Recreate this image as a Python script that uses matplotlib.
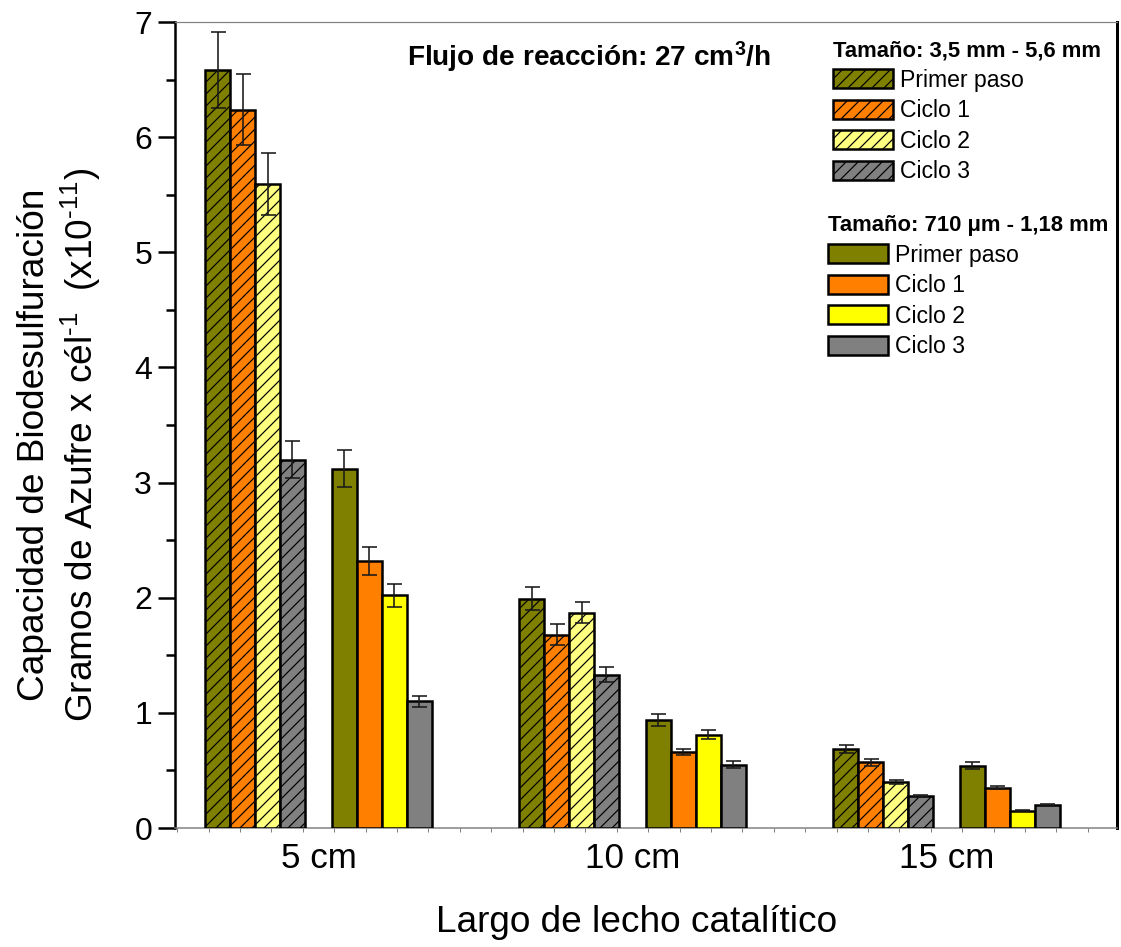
import numpy as np
import matplotlib
matplotlib.use('Agg')
import matplotlib.pyplot as plt

# Datos: capacidad de biodesulfuración (x10^-11 g S / cél)
categorias = ['5 cm', '10 cm', '15 cm']
series = ['Primer paso', 'Ciclo 1', 'Ciclo 2', 'Ciclo 3']

# Tamaño 3,5 mm - 5,6 mm
grande = [
    [6.58, 1.99, 0.69],
    [6.24, 1.68, 0.57],
    [5.59, 1.87, 0.40],
    [3.20, 1.33, 0.28],
]
grande_err = [
    [0.33, 0.10, 0.035],
    [0.31, 0.09, 0.03],
    [0.27, 0.09, 0.02],
    [0.16, 0.065, 0.01],
]

# Tamaño 710 um - 1,18 mm
fino = [
    [3.12, 0.94, 0.54],
    [2.32, 0.66, 0.35],
    [2.02, 0.81, 0.15],
    [1.10, 0.55, 0.20],
]
fino_err = [
    [0.16, 0.05, 0.03],
    [0.12, 0.03, 0.015],
    [0.10, 0.04, 0.005],
    [0.05, 0.03, 0.01],
]

colores_grande = ['#808000', '#FF8000', '#FFFF80', '#808080']
colores_fino = ['#808000', '#FF8000', '#FFFF00', '#808080']

plt.rcParams['font.family'] = ['Liberation Sans', 'DejaVu Sans']
plt.rcParams['mathtext.fontset'] = 'custom'
plt.rcParams['mathtext.rm'] = 'Liberation Sans'
plt.rcParams['mathtext.it'] = 'Liberation Sans:italic'
plt.rcParams['mathtext.bf'] = 'Liberation Sans:bold'
plt.rcParams['hatch.linewidth'] = 1.2
plt.rcParams['hatch.color'] = 'black'

W, H = 1121, 947
dpi = 72
fig = plt.figure(figsize=(W / dpi, H / dpi), dpi=dpi)
ax = fig.add_axes([175 / W, (H - 828) / H, (1117 - 175) / W, (828 - 22) / H])

x = np.arange(len(categorias))
ancho = 0.0796
sep = 0.0828

err_kw = dict(ecolor='#1a1a1a', elinewidth=1.6, capsize=7.5, capthick=1.6)

barras_grande = []
for i, nombre in enumerate(series):
    b = ax.bar(x - sep - (3 - i) * ancho, grande[i], ancho, yerr=grande_err[i],
               color=colores_grande[i], edgecolor='black', linewidth=2.5,
               hatch='//', label=nombre, error_kw=err_kw, zorder=3)
    barras_grande.append(b)

barras_fino = []
for i, nombre in enumerate(series):
    b = ax.bar(x + sep + i * ancho, fino[i], ancho, yerr=fino_err[i],
               color=colores_fino[i], edgecolor='black', linewidth=2.5,
               label=nombre, error_kw=err_kw, zorder=3)
    barras_fino.append(b)

ax.set_xlim(-0.457, 2.543)
ax.set_ylim(0, 7)
ax.set_xticks(x)
ax.set_xticklabels(categorias)
ax.set_xticks(np.arange(-0.45, 2.55, 0.1), minor=True)
ax.set_yticks(np.arange(0, 8, 1))
ax.set_yticks(np.arange(0.5, 7, 1), minor=True)

ax.tick_params(axis='y', which='major', direction='out', length=17, width=2.5,
               labelsize=32, pad=6)
ax.tick_params(axis='y', which='minor', direction='out', length=9, width=2.5)
ax.tick_params(axis='x', which='major', length=0, labelsize=35, pad=14)
ax.tick_params(axis='x', which='minor', direction='out', length=4, width=1,
               color='#808080')

ax.spines['left'].set_linewidth(2.5)
ax.spines['right'].set_linewidth(3)
ax.spines['top'].set_color('#808080')
ax.spines['top'].set_linewidth(1.2)
ax.spines['bottom'].set_color('#808080')
ax.spines['bottom'].set_linewidth(1.5)

fig.text(60 / W, 1 - 445 / H,
         'Capacidad de Biodesulfuración\n'
         r'Gramos de Azufre x cél$^{\text{-1}}$  (x10$^{\text{-11}}$)',
         rotation=90, ha='center', va='center', multialignment='center',
         fontsize=37, linespacing=1.2)
fig.text(637 / W, 1 - 922 / H, 'Largo de lecho catalítico',
         ha='center', va='center', fontsize=37)
fig.text(589 / W, 1 - 57 / H, r'Flujo de reacción: 27 cm$^{\mathbf{3}}$/h',
         ha='center', va='center', fontsize=28, fontweight='bold')

leg_kw = dict(loc='upper left', frameon=False, fontsize=23, borderpad=0,
              borderaxespad=0, handlelength=2.6, handleheight=0.87,
              handletextpad=0.3, labelspacing=0.33, alignment='left',
              bbox_transform=fig.transFigure,
              title_fontproperties={'weight': 'bold', 'size': 22})

leg1 = ax.legend(barras_grande, series, title='Tamaño: 3,5 mm - 5,6 mm',
                 bbox_to_anchor=(833 / W, 1 - 40 / H), **leg_kw)
ax.add_artist(leg1)
ax.legend(barras_fino, series, title='Tamaño: 710 μm - 1,18 mm',
          bbox_to_anchor=(828 / W, 1 - 215 / H), **leg_kw)

fig.savefig('out.png', dpi=dpi)
